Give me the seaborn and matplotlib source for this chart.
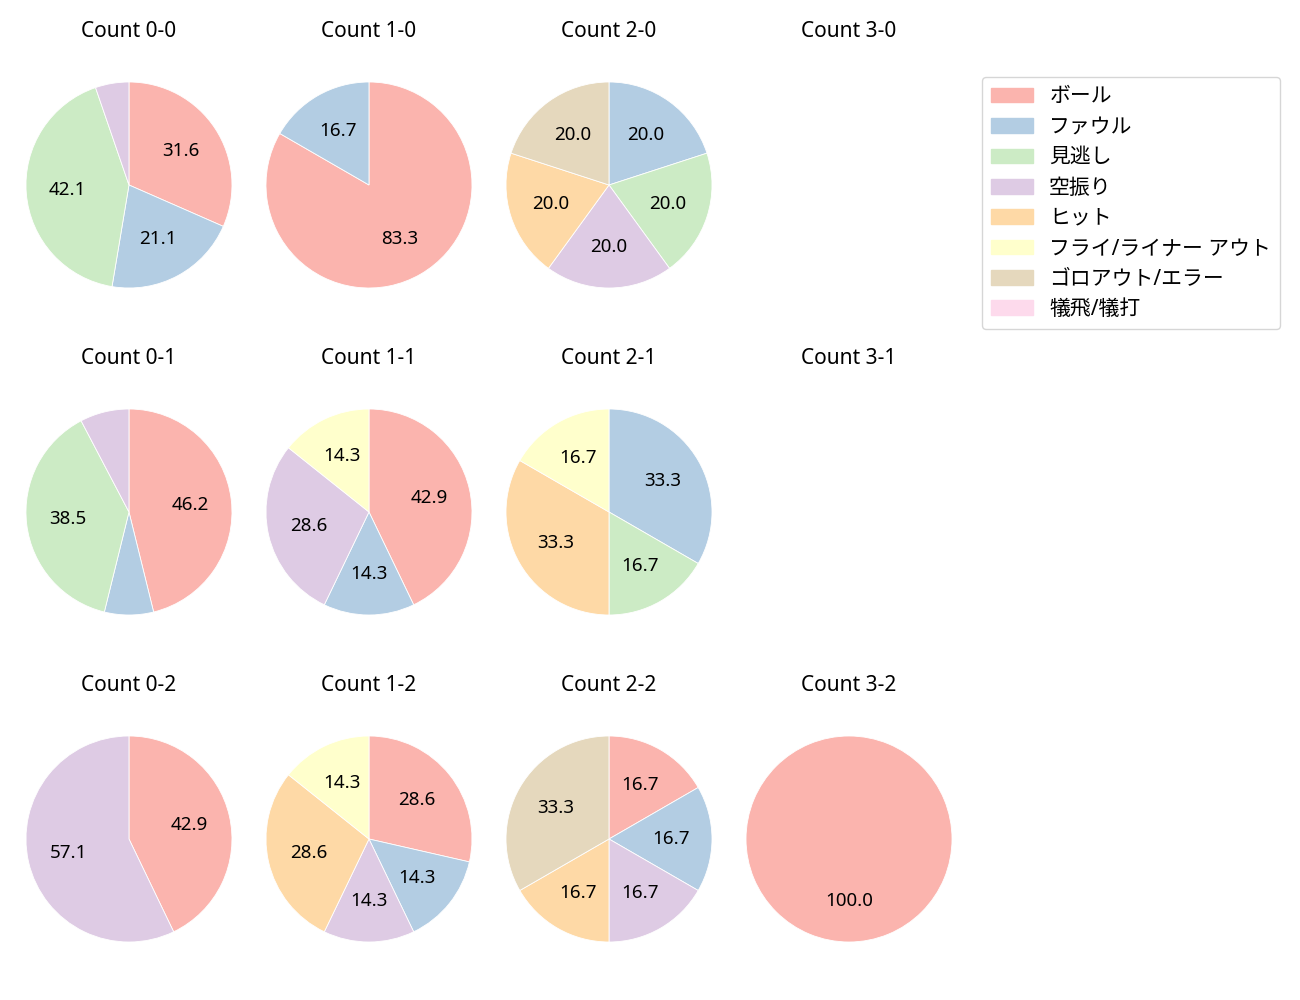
import matplotlib
matplotlib.use("Agg")
import matplotlib.pyplot as plt
import matplotlib.patches as mpatches
import seaborn as sns

sns.set_theme(style="white")
plt.rcParams['font.family'] = ['Noto Sans', 'Noto Sans CJK JP', 'DejaVu Sans']
plt.rcParams['text.color'] = 'black'
plt.rcParams['axes.titlecolor'] = 'black'

# 結果の種類
categories = ["ボール", "ファウル", "見逃し", "空振り", "ヒット",
              "フライ/ライナー アウト", "ゴロアウト/エラー", "犠飛/犠打"]

# カウント別の件数 (categories と同じ順)
balls = [0, 1, 2, 3]
strikes = [0, 1, 2]
counts = {
    "0-0": [6, 4, 8, 1, 0, 0, 0, 0],
    "1-0": [5, 1, 0, 0, 0, 0, 0, 0],
    "2-0": [0, 1, 1, 1, 1, 0, 1, 0],
    "3-0": [],
    "0-1": [6, 1, 5, 1, 0, 0, 0, 0],
    "1-1": [3, 1, 0, 2, 0, 1, 0, 0],
    "2-1": [0, 2, 1, 0, 2, 1, 0, 0],
    "3-1": [],
    "0-2": [3, 0, 0, 4, 0, 0, 0, 0],
    "1-2": [2, 1, 0, 1, 2, 1, 0, 0],
    "2-2": [1, 1, 0, 1, 1, 0, 2, 0],
    "3-2": [1, 0, 0, 0, 0, 0, 0, 0],
}

colors = sns.color_palette("Pastel1", len(categories))


def pct_label(p):
    # 小さい割合はラベルを省略
    return f"{p:.1f}" if p >= 10 else ""


fig, axes = plt.subplots(3, 4, figsize=(13, 10), dpi=100)
fig.subplots_adjust(left=0.0069, right=0.7454, top=0.935, bottom=0.041,
                    wspace=0.0, hspace=0.3625)

for i, s in enumerate(strikes):
    for j, b in enumerate(balls):
        ax = axes[i, j]
        key = f"{b}-{s}"
        vals = counts[key]
        ax.set_title(f"Count {key}", fontsize=15, pad=20.5)
        if sum(vals) == 0:
            ax.axis("off")
            continue
        # 0件のカテゴリは描かない
        keep = [k for k, v in enumerate(vals) if v > 0]
        ax.pie(
            [vals[k] for k in keep], colors=[colors[k] for k in keep],
            startangle=90, counterclock=False,
            autopct=pct_label, pctdistance=0.6,
            wedgeprops=dict(edgecolor="white", linewidth=0.6),
            textprops=dict(fontsize=13.5, color="black"),
        )
        ax.set_xlim(-1.165, 1.165)
        ax.set_ylim(-1.165, 1.165)

handles = [mpatches.Patch(color=c) for c in colors]
fig.legend(handles, categories, loc="upper left",
           bbox_to_anchor=(0.755, 0.923), borderaxespad=0, fontsize=15,
           frameon=True, handlelength=2.0, handletextpad=0.8,
           labelspacing=0.45, borderpad=0.45)

fig.savefig("out.png", dpi=100)
